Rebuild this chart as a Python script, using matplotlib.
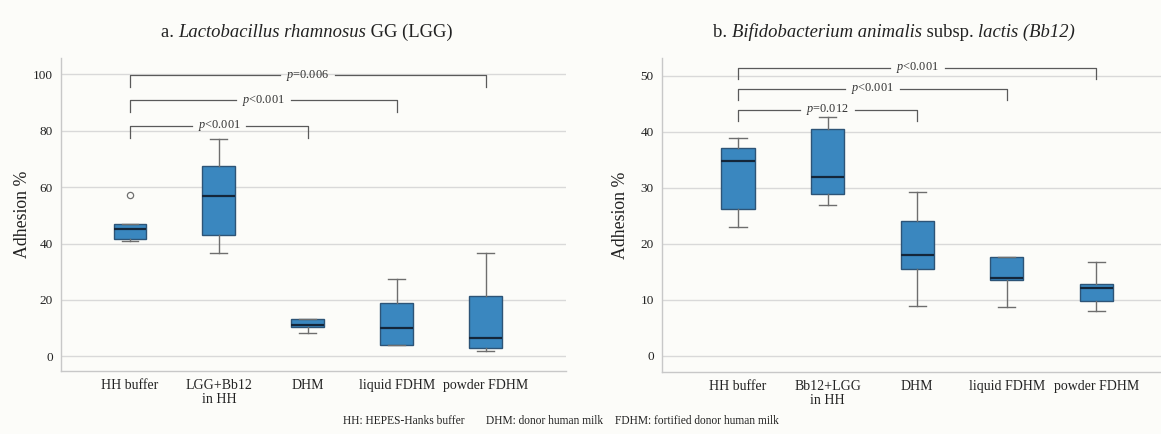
import matplotlib
matplotlib.use("Agg")
import matplotlib.pyplot as plt
from matplotlib.offsetbox import TextArea, HPacker, AnnotationBbox

plt.rcParams['font.family'] = ['Liberation Serif', 'DejaVu Serif']
plt.rcParams['mathtext.fontset'] = 'custom'
plt.rcParams['mathtext.rm'] = 'Liberation Serif'
plt.rcParams['mathtext.it'] = 'Liberation Serif:italic'

# ---------------- data ----------------
labels_a = ["HH buffer", "LGG+Bb12\nin HH", "DHM", "liquid FDHM", "powder FDHM"]
labels_b = ["HH buffer", "Bb12+LGG\nin HH", "DHM", "liquid FDHM", "powder FDHM"]

# panel a (LGG)
a_whislo = [41.0, 36.8, 8.3, 3.9, 1.9]
a_q1 = [41.6, 42.9, 10.4, 4.1, 2.8]
a_med = [45.1, 56.9, 11.2, 10.0, 6.5]
a_q3 = [47.1, 67.4, 13.1, 18.9, 21.3]
a_whishi = [47.1, 77.0, 13.1, 27.3, 36.8]
a_fliers = [[57.3], [], [], [], []]

# panel b (Bb12)
b_whislo = [23.0, 27.0, 8.9, 8.8, 8.0]
b_q1 = [26.2, 29.0, 15.5, 13.5, 9.8]
b_med = [34.8, 32.0, 18.0, 14.0, 12.1]
b_q3 = [37.2, 40.6, 24.1, 17.7, 12.9]
b_whishi = [39.0, 42.6, 29.2, 17.7, 16.7]
b_fliers = [[], [], [], [], []]

# significance brackets: (group from, group to, bar level, tip level, text)
a_sig_from = [0, 0, 0]
a_sig_to = [2, 3, 4]
a_sig_y = [81.7, 90.8, 99.7]
a_sig_tip = [77.4, 86.5, 95.5]
a_sig_text = ["$p$<0.001", "$p$<0.001", "$p$=0.006"]

b_sig_from = [0, 0, 0]
b_sig_to = [2, 3, 4]
b_sig_y = [44.0, 47.7, 51.5]
b_sig_tip = [41.9, 45.7, 49.5]
b_sig_text = ["$p$=0.012", "$p$<0.001", "$p$<0.001"]

# title pieces: (text, italic?)
title_a = [("a. ", False), ("Lactobacillus rhamnosus", True), (" GG (LGG)", False)]
title_b = [("b. ", False), ("Bifidobacterium animalis", True), (" subsp. ", False),
           ("lactis (Bb12)", True)]
footer = ["HH: HEPES-Hanks buffer", "DHM: donor human milk", "FDHM: fortified donor human milk"]

# ---------------- style ----------------
BG = '#fcfcf9'
BOX = '#3a87bf'
EDGE = '#2d5477'
MED = '#14263a'
WH = '#6e6e6e'
GRID = '#d9d9d9'
BR = '#5a5a5a'
TXT = '#222222'

W, H = 1161, 434
fig = plt.figure(figsize=(W / 100, H / 100), dpi=100, facecolor=BG)


def px_axes(x0, y0, x1, y1):
    return fig.add_axes([x0 / W, 1 - y1 / H, (x1 - x0) / W, (y1 - y0) / H])


def make_panel(ax, labels, whislo, q1, med, q3, whishi, fliers,
               ylim, xlim, yticks, ylab_x):
    stats = []
    for i in range(len(labels)):
        stats.append(dict(whislo=whislo[i], q1=q1[i], med=med[i], q3=q3[i],
                          whishi=whishi[i], fliers=fliers[i], label=labels[i]))
    pos = list(range(1, len(labels) + 1))
    ax.set_facecolor(BG)
    ax.bxp(stats, positions=pos, widths=0.37, patch_artist=True,
           showfliers=True, capwidths=0.19,
           boxprops=dict(facecolor=BOX, edgecolor=EDGE, linewidth=1.0),
           medianprops=dict(color=MED, linewidth=1.6),
           whiskerprops=dict(color=WH, linewidth=1.0),
           capprops=dict(color=WH, linewidth=1.0),
           flierprops=dict(marker='o', markersize=4.5, markerfacecolor='none',
                           markeredgecolor='#707070', markeredgewidth=0.9),
           zorder=3)
    ax.set_xlim(*xlim)
    ax.set_ylim(*ylim)
    ax.set_yticks(yticks)
    ax.yaxis.grid(True, color=GRID, linewidth=1.0, zorder=0)
    ax.set_axisbelow(True)
    for s in ['top', 'right']:
        ax.spines[s].set_visible(False)
    for s in ['left', 'bottom']:
        ax.spines[s].set_color('#c8c8c8')
        ax.spines[s].set_linewidth(1.0)
    ax.tick_params(axis='both', length=0, colors=TXT)
    ax.tick_params(axis='y', labelsize=9.5, pad=6)
    ax.tick_params(axis='x', labelsize=10, pad=6)
    ax.set_xticks(pos)
    ax.set_xticklabels(labels, linespacing=1.1)
    ax.set_ylabel("Adhesion %", fontsize=12.8, color=TXT)
    ax.yaxis.set_label_coords(ylab_x, 0.5)
    return pos


def add_brackets(ax, pos, sf, st, sy, stip, stext, gap_px=6):
    renderer = fig.canvas.get_renderer()
    inv = ax.transData.inverted()
    for f, t, y, tip, txt in zip(sf, st, sy, stip, stext):
        x0, x1 = pos[f], pos[t]
        xm = (x0 + x1) / 2
        tx = ax.text(xm, y, txt, ha='center', va='center', fontsize=8.8,
                     color='#333333', zorder=5)
        bb = tx.get_window_extent(renderer=renderer)
        xl = inv.transform((bb.x0 - gap_px, 0))[0]
        xr = inv.transform((bb.x1 + gap_px, 0))[0]
        ax.plot([x0, x0, xl], [tip, y, y], color=BR, linewidth=0.9,
                zorder=4, solid_joinstyle='round')
        ax.plot([xr, x1, x1], [y, y, tip], color=BR, linewidth=0.9,
                zorder=4, solid_joinstyle='round')


ax1 = px_axes(61, 58, 566, 371)
pos1 = make_panel(ax1, labels_a, a_whislo, a_q1, a_med, a_q3, a_whishi, a_fliers,
                  ylim=(-5.2, 105.8), xlim=(0.225, 5.90), yticks=[0, 20, 40, 60, 80, 100],
                  ylab_x=-30 / 505)

ax2 = px_axes(662, 58, 1161, 372)
pos2 = make_panel(ax2, labels_b, b_whislo, b_q1, b_med, b_q3, b_whishi, b_fliers,
                  ylim=(-2.86, 53.2), xlim=(0.152, 5.72), yticks=[0, 10, 20, 30, 40, 50],
                  ylab_x=-33 / 499)

fig.canvas.draw()
add_brackets(ax1, pos1, a_sig_from, a_sig_to, a_sig_y, a_sig_tip, a_sig_text)
add_brackets(ax2, pos2, b_sig_from, b_sig_to, b_sig_y, b_sig_tip, b_sig_text)


def title_box(pieces, xc, yc, size=13.4):
    kids = [TextArea(t, textprops=dict(fontsize=size, color=TXT,
                                       fontstyle='italic' if it else 'normal'))
            for t, it in pieces]
    box = HPacker(children=kids, align='baseline', pad=0, sep=0)
    ab = AnnotationBbox(box, (xc / W, 1 - yc / H), xycoords='figure fraction',
                        frameon=False, box_alignment=(0.5, 0.5), pad=0)
    fig.add_artist(ab)


title_box(title_a, 307, 32)
title_box(title_b, 894, 32)

for x, t in zip([343, 486, 615], footer):
    fig.text(x / W, 1 - 421 / H, t, ha='left', va='center', fontsize=8.3, color=TXT)

fig.savefig("out.png", dpi=100, facecolor=BG)
